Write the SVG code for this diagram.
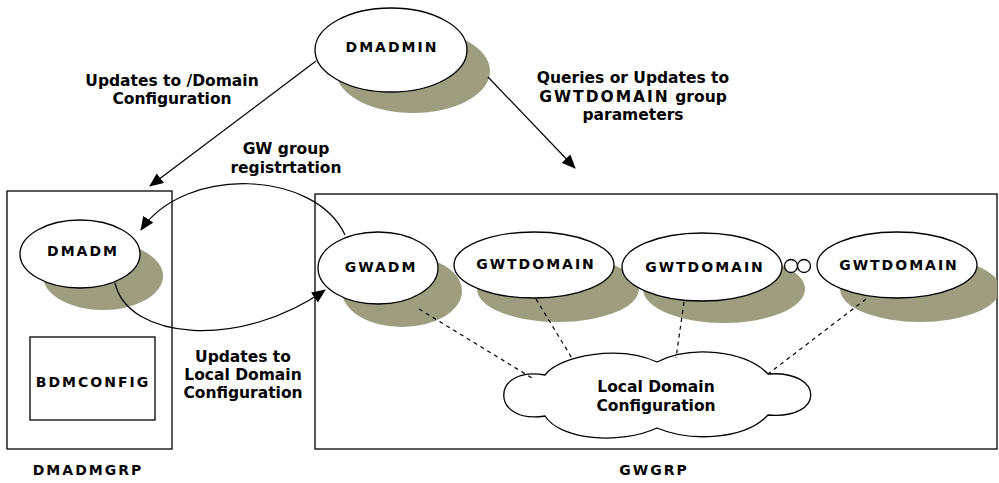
<svg xmlns="http://www.w3.org/2000/svg" width="999" height="483" viewBox="0 0 999 483">
  <style>
    .shadow { fill: #9f9d7f; stroke: none; }
    .node { fill: #ffffff; stroke: #000; stroke-width: 1.3; }
    .box { fill: none; stroke: #000; stroke-width: 1.3; }
    .caps { font-family: "DejaVu Sans", Verdana, sans-serif; font-weight: bold; font-size: 14px; letter-spacing: 2px; fill: #000; text-anchor: middle; }
    .lbl { font-family: "DejaVu Sans", Verdana, sans-serif; font-weight: bold; font-size: 15.5px; fill: #000; text-anchor: middle; }
    .conn { fill: none; stroke: #000; stroke-width: 1.2; }
    .dash { fill: none; stroke: #000; stroke-width: 1.2; stroke-dasharray: 4 4; }
  </style>
  <defs>
    <marker id="arrow" viewBox="0 0 14 12" refX="13" refY="6" markerWidth="14" markerHeight="12" markerUnits="userSpaceOnUse" orient="auto">
      <path d="M0,0 L14,6 L0,12 Z" fill="#000"/>
    </marker>
    <clipPath id="gwclip">
      <rect x="0" y="0" width="997" height="483"/>
    </clipPath>
  </defs>

  <rect width="999" height="483" fill="#ffffff"/>

  <!-- group containers -->
  <g id="dmadmgrp">
    <rect class="box" x="7" y="191" width="165" height="258"/>
    <text class="caps" x="88" y="475">DMADMGRP</text>
  </g>
  <g id="gwgrp">
    <rect class="box" x="315" y="194" width="682" height="255"/>
    <text class="caps" x="654" y="475">GWGRP</text>
  </g>

  <!-- nodes -->
  <g id="dmadmin">
    <ellipse class="shadow" cx="413" cy="71" rx="77" ry="42"/>
    <ellipse class="node" cx="391" cy="50" rx="76" ry="42"/>
    <text class="caps" x="392" y="52">DMADMIN</text>
  </g>
  <g id="dmadm">
    <ellipse class="shadow" cx="103" cy="276" rx="60" ry="34"/>
    <ellipse class="node" cx="80" cy="254" rx="60" ry="34"/>
    <text class="caps" x="83" y="256">DMADM</text>
  </g>
  <g id="bdmconfig">
    <rect class="box" x="30" y="337" width="125" height="83"/>
    <text class="caps" x="93" y="387">BDMCONFIG</text>
  </g>
  <g id="gwadm">
    <ellipse class="shadow" cx="402" cy="291" rx="60" ry="36"/>
    <ellipse class="node" cx="378" cy="268" rx="60" ry="36"/>
    <text class="caps" x="381" y="272">GWADM</text>
  </g>
  <g id="gwtdomain1">
    <ellipse class="shadow" cx="558" cy="289" rx="81" ry="33"/>
    <ellipse class="node" cx="534" cy="265" rx="80" ry="33"/>
    <text class="caps" x="536" y="269">GWTDOMAIN</text>
  </g>
  <g id="gwtdomain2">
    <ellipse class="shadow" cx="724" cy="289" rx="81" ry="34"/>
    <ellipse class="node" cx="702" cy="267" rx="80" ry="34"/>
    <text class="caps" x="705" y="272">GWTDOMAIN</text>
  </g>
  <g id="gwtdomain3">
    <ellipse class="shadow" cx="920" cy="289" rx="80" ry="33" clip-path="url(#gwclip)"/>
    <ellipse class="node" cx="897" cy="265" rx="80" ry="33"/>
    <text class="caps" x="899" y="270">GWTDOMAIN</text>
  </g>
  <g id="more">
    <circle class="node" cx="791" cy="266" r="6.5"/>
    <circle class="node" cx="804" cy="266" r="6.5"/>
  </g>
  <g id="localconfig">
    <path class="node" d="M545,375 C560,355 620,345 657,362 C690,345 745,350 768,374 C825,370 825,420 768,415 C745,440 690,442 657,428 C620,445 560,440 545,416 C490,425 490,365 545,375 Z"/>
    <text class="lbl" x="656" y="392">Local Domain</text>
    <text class="lbl" x="656" y="411">Configuration</text>
  </g>

  <!-- connectors -->
  <g id="connectors">
    <path class="conn" d="M316,61 L150,186" marker-end="url(#arrow)"/>
    <path class="conn" d="M488,77 L575,168" marker-end="url(#arrow)"/>
    <path class="conn" d="M345,235 C315,170 185,165 141,230" marker-end="url(#arrow)"/>
    <path class="conn" d="M115,283 C128,340 240,350 325,290" marker-end="url(#arrow)"/>
    <path class="dash" d="M419,309 L532,378"/>
    <path class="dash" d="M536,299 L573,360"/>
    <path class="dash" d="M684,302 L676,358"/>
    <path class="dash" d="M866,299 L768,374"/>
  </g>

  <!-- connector labels -->
  <g id="labels">
    <text class="lbl" x="172" y="86">Updates to /Domain</text>
    <text class="lbl" x="172" y="104">Configuration</text>
    <text class="lbl" x="286" y="154">GW group</text>
    <text class="lbl" x="286" y="173">registrtation</text>
    <text class="lbl" x="633" y="83">Queries or Updates to</text>
    <text class="lbl" x="633" y="102"><tspan style="letter-spacing:2px">GWTDOMAIN</tspan> group</text>
    <text class="lbl" x="633" y="120">parameters</text>
    <text class="lbl" x="243" y="362">Updates to</text>
    <text class="lbl" x="243" y="380">Local Domain</text>
    <text class="lbl" x="243" y="398">Configuration</text>
  </g>
</svg>
